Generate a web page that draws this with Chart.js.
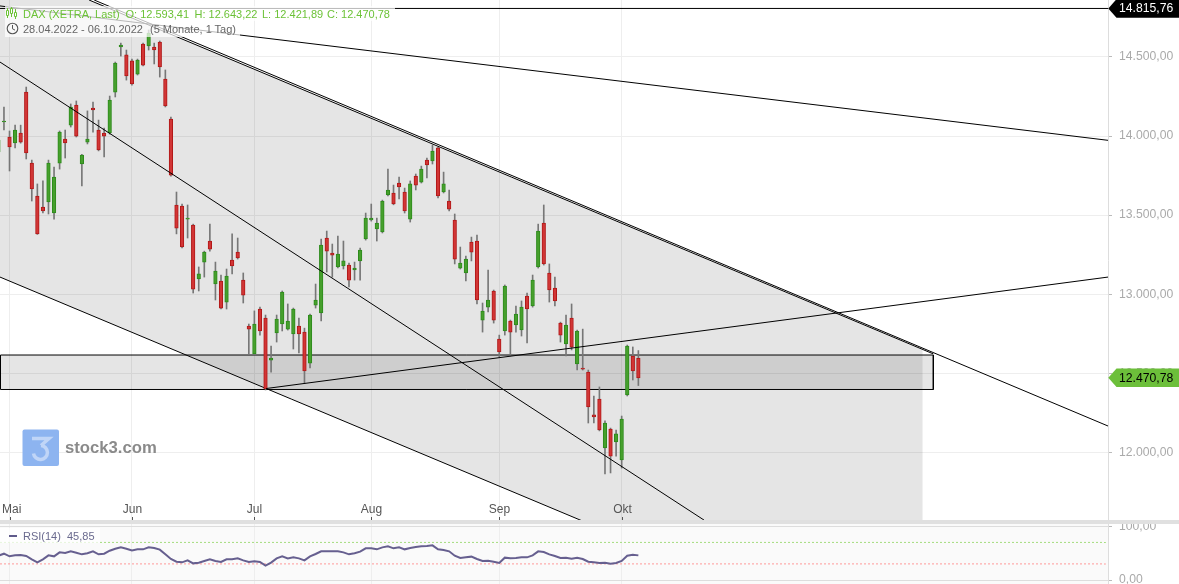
<!DOCTYPE html>
<html lang="de">
<head>
<meta charset="utf-8">
<title>DAX</title>
<script src="https://cdn.jsdelivr.net/npm/chart.js@4"></script>
<style>
  html, body { margin: 0; padding: 0; background: #fff; overflow: hidden; }
  body { width: 1179px; height: 584px; position: relative; font-family: "Liberation Sans", Arial, sans-serif; }
  canvas { position: absolute; left: 0; }
  #chartPrice { top: 0; }
  #chartRsi { top: 524px; }
  #divider { position: absolute; left: 0; top: 520px; width: 1179px; height: 4px; background: #e0e0e0; }
  #rsiBg { position: absolute; left: 0; top: 524px; width: 1108px; height: 60px; background: #fafafa; }
  .legend { position: absolute; font-size: 11px; line-height: 16px; white-space: pre; background: rgba(255,255,255,.72); }
  .legend span { position: absolute; top: 0; }
  #rowTitle { left: 5px; top: 6px; width: 390px; height: 15px; color: #6cc237; }
  #rowRange { left: 5px; top: 21px; width: 235px; height: 16px; color: #666; }
  #rowRsi { left: 0; top: 528px; width: 100px; height: 15px; color: #6a6a8e; }
  #rsiDash { position: absolute; left: 9px; top: 535px; width: 8px; height: 2px; background: #5f5a8a; }
  .icon { position: absolute; }
  #logoText { position: absolute; left: 65px; top: 438px; font-size: 16.7px; line-height: 20px; font-weight: bold; color: #8a8a8a; }
</style>
</head>
<body>
<div id="rsiBg"></div>
<canvas id="chartPrice" width="1179" height="520"></canvas>
<canvas id="chartRsi" width="1179" height="60"></canvas>
<div id="divider"></div>

<div class="legend" id="rowTitle"><span style="left:18px">DAX (XETRA, Last)</span><span style="left:120.500px">O: 12.593,41</span><span style="left:189.500px">H: 12.643,22</span><span style="left:257px">L: 12.421,89</span><span style="left:322px">C: 12.470,78</span></div>
<div class="legend" id="rowRange"><span style="left:18px">28.04.2022 - 06.10.2022</span><span style="left:145px">(5 Monate, 1 Tag)</span></div>
<svg class="icon" style="left:5px;top:7px" width="13" height="12" viewBox="0 0 13 12">
  <path d="M2.500 1v10M6.500 0v10M10.500 2v10" stroke="#6cc237" fill="none"/>
  <path d="M1.500 3.500h2v5h-2zM5.500 1.500h2v5h-2zM9.500 5.500h2v4h-2z" stroke="#6cc237" fill="#fff"/>
</svg>
<svg class="icon" style="left:6px;top:22px" width="13" height="13" viewBox="0 0 13 13">
  <circle cx="6.500" cy="6.500" r="5.300" stroke="#555" stroke-width="1.100" fill="none"/>
  <path d="M6.500 3v3.800l2.500 1.300" stroke="#555" fill="none"/>
</svg>
<div class="legend" id="rowRsi"><span style="left:23px">RSI(14)</span><span style="left:67px">45,85</span></div>
<div id="rsiDash"></div>

<svg class="icon" style="left:22px;top:429px" width="38" height="38" viewBox="0 0 38 38">
  <rect x="0.500" y="0.500" width="36.500" height="36.500" rx="2" fill="#8db4f0"/>
  <path d="M10 9.500h17l-8 7" stroke="#c0d5f7" stroke-width="3.500" fill="none"/>
  <path d="M19 16.500a7 7 0 1 1 -7.500 8" stroke="#c0d5f7" stroke-width="3.500" fill="none"/>
</svg>
<div id="logoText">stock3.com</div>

<script>
// 28.04.2022 - 06.10.2022, one entry per trading day
const opens = [13899, 14089, 13994, 13956, 14019, 14278, 13829, 13621, 13551, 13583, 13513, 13829, 13981, 14069, 14196, 13823, 13962, 14177, 14038, 14019,
  14019, 14278, 14563, 14513, 14475, 14392, 14582, 14570, 14563, 14595, 14361, 14108, 13564, 13557, 13475, 13437, 13096, 13203, 13336, 13064,
  13083, 12950, 13216, 13266, 13089, 12798, 12622, 12906, 12849, 12583, 12754, 12811, 12779, 12748, 12798, 12760, 12564, 12931, 12881, 13355,
  13260, 13172, 13178, 13184, 13153, 13210, 13349, 13469, 13412, 13393, 13627, 13640, 13703, 13646, 13475, 13747, 13709, 13848, 13842, 13925,
  13646, 13589, 13469, 13165, 13134, 13330, 13336, 12836, 12918, 13020, 12716, 12767, 12830, 12805, 12773, 12988, 12925, 13172, 13450, 13134,
  13039, 12817, 12685, 12849, 12558, 12533, 12507, 12236, 12337, 12027, 12147, 12065, 11951, 12362, 12609, 12593.41];
const highs = [13994, 14184, 14032, 14069, 14069, 14310, 13848, 13697, 13716, 13848, 13804, 14032, 14038, 14203, 14222, 13885, 14159, 14215, 14101, 14051,
  14253, 14468, 14588, 14544, 14487, 14487, 14588, 14671, 14588, 14601, 14418, 14120, 13646, 13570, 13564, 13443, 13172, 13272, 13443, 13203,
  13121, 13159, 13381, 13355, 13134, 12811, 12894, 12918, 12868, 12672, 12868, 13020, 12938, 12912, 12849, 12785, 12874, 13064, 13349, 13399,
  13317, 13368, 13336, 13197, 13203, 13292, 13513, 13570, 13481, 13595, 13791, 13690, 13741, 13671, 13716, 13760, 13810, 13861, 13943, 13931,
  13772, 13659, 13507, 13298, 13241, 13361, 13374, 12944, 13153, 13026, 12741, 13058, 12836, 12925, 12957, 13007, 13121, 13443, 13564, 13191,
  13108, 12823, 12868, 12938, 12773, 12779, 12520, 12356, 12413, 12198, 12153, 12141, 12229, 12678, 12666, 12643.22];
const lows = [13880, 14038, 13779, 13925, 13955, 13855, 13589, 13378, 13513, 13507, 13475, 13791, 13861, 14057, 13994, 13684, 13950, 14025, 13906, 13868,
  14012, 14247, 14506, 14354, 14322, 14386, 14443, 14544, 14456, 14373, 14184, 13747, 13381, 13292, 13355, 13007, 13020, 13108, 13272, 12963,
  12906, 12906, 13128, 13222, 12944, 12622, 12616, 12741, 12394, 12507, 12697, 12767, 12773, 12653, 12628, 12438, 12533, 12912, 12830, 13140,
  13108, 13166, 13159, 13045, 13089, 13089, 13342, 13462, 13336, 13387, 13621, 13565, 13602, 13513, 13456, 13659, 13703, 13735, 13823, 13608,
  13640, 13526, 13191, 13159, 13083, 13210, 12938, 12760, 12887, 12817, 12602, 12741, 12609, 12760, 12735, 12691, 12918, 13165, 13184, 12950,
  12925, 12697, 12609, 12647, 12520, 12520, 12185, 12185, 12135, 11863, 11869, 11976, 11900, 12356, 12457, 12421.89];
const closes = [13975, 14095, 13931, 14038, 13962, 13893, 13665, 13381, 13526, 13829, 13741, 14025, 13956, 14184, 14000, 13880, 13981, 14165, 13912, 14000,
  14228, 14462, 14576, 14380, 14329, 14481, 14449, 14652, 14544, 14437, 14190, 13753, 13418, 13298, 13481, 13032, 13128, 13266, 13285, 13146,
  12912, 13115, 13178, 13229, 12994, 12779, 12811, 12767, 12400, 12596, 12843, 13013, 12830, 12906, 12748, 12514, 12868, 12963, 13311, 13272,
  13247, 13254, 13210, 13089, 13165, 13279, 13481, 13481, 13450, 13589, 13659, 13570, 13678, 13526, 13697, 13690, 13791, 13817, 13905, 13621,
  13697, 13538, 13222, 13197, 13222, 13266, 12963, 12893, 12963, 12836, 12634, 13051, 12760, 12874, 12918, 12906, 13089, 13399, 13191, 13026,
  12957, 12741, 12805, 12665, 12767, 12526, 12286, 12223, 12141, 12185, 11976, 12116, 12210, 12672, 12514, 12470.78];
const rsiValues = [45.3, 49, 44.1, 45.9, 46.6, 44.7, 38.5, 32.9, 38.5, 45.9, 44.1, 51.5, 50.3, 53.4, 50.9, 47.8, 49.7, 53.4, 47.8, 49,
  54.6, 58.3, 60.8, 58.3, 55.2, 57.1, 57.1, 60.8, 59.6, 56.5, 47.8, 39.1, 34.1, 32.9, 36.6, 31, 32.3, 35.4, 38.5, 35.4,
  33.5, 38.5, 38.5, 40.3, 36.6, 33.5, 34.8, 33.5, 26.7, 32.3, 40.3, 44.1, 40.3, 42.2, 40.3, 36.6, 44.1, 48.4, 53.4, 53.4,
  53.4, 53.4, 51.5, 47.8, 49.7, 52.8, 59, 59, 57.1, 60.8, 62.7, 59, 60.8, 57.1, 59.6, 61.4, 62.7, 63.3, 64.6, 57.1,
  55.9, 53.4, 45.3, 41, 42.2, 43.5, 39.1, 35.4, 36, 34.1, 31.7, 41.6, 40.3, 41, 42.2, 42.2, 45.9, 53.4, 52.1, 47.8,
  44.7, 41, 41.6, 39.7, 41.6, 39.1, 34.1, 32.9, 31.7, 32.3, 30.4, 31.7, 35.4, 45.3, 47.2, 45.85];

const monthIdx = [2, 24, 46, 67, 90, 112];
const monthNames = ['Mai', 'Jun', 'Jul', 'Aug', 'Sep', 'Okt'];
const priceTicks = [12000, 12500, 13000, 13500, 14000, 14500];
const rsiTicks = [0, 100];

// trend lines as [index, price] pairs
const channelTop = [[17.21, 14860.5], [199.39, 12166]];
const channelTop2 = [[16.29, 14860.5], [168, 12622]];
const channelMid = [[0.288, 14468], [126.8, 11571]];
const shadeTop = [[0.288, 15096], [166.1, 12649]];
const shadeBottom = [[0.288, 13108], [166.1, 10664]];
const riseLine = [[48.1, 12403], [199.39, 13108]];
const fallLine = [[0.288, 14823], [199.39, 13973]];
const highLine = [[0.288, 14807], [199.39, 14807]];
const boxTop = 12615;
const boxBottom = 12397;
const boxLeft = 0.378;
const boxRight = 168;

const xMin = 0.288;
const xMax = 199.39;
const rsiEnd = 199;
const rsiUpper = 70;
const rsiLower = 30;

const highTag = '14.815,76';
const closeTag = '12.470,78';

const GREEN = '#46a02c', GREEN_DARK = '#2d8a1c';
const RED = '#d23535', RED_DARK = '#b01818';

const formatPrice = v => v.toLocaleString('de-DE', { minimumFractionDigits: 2, maximumFractionDigits: 2 });
const toPoints = pairs => pairs.map(([x, y]) => ({ x, y }));

function trendLine(pairs, extra) {
  return Object.assign({
    type: 'line', data: toPoints(pairs), borderColor: '#000', borderWidth: 1,
    pointRadius: 0, tension: 0, fill: false, order: 1
  }, extra);
}

function axisFit(scale) {
  scale.width = 71;
  scale.paddingTop = 0;
  scale.paddingBottom = 0;
}

function xAxis() {
  return {
    type: 'linear', min: xMin, max: xMax, offset: false,
    afterBuildTicks: scale => { scale.ticks = monthIdx.map(value => ({ value })); },
    afterFit: scale => { scale.height = 0; },
    ticks: { display: false },
    grid: { color: '#eee', offset: false, drawTicks: false },
    border: { display: false }
  };
}

function yAxis(min, max, tickValues, gridColor) {
  return {
    type: 'linear', position: 'right', min, max, beginAtZero: false,
    afterBuildTicks: scale => { scale.ticks = tickValues.map(value => ({ value })); },
    afterFit: axisFit,
    ticks: {
      padding: 7, color: '#aaa', autoSkip: false,
      font: { family: 'Liberation Sans', size: 12.2 }, callback: formatPrice
    },
    grid: { color: gridColor, tickLength: 4, tickColor: '#bbb' },
    border: { color: '#ddd' }
  };
}

const monthLabels = {
  id: 'monthLabels',
  afterDatasetsDraw(chart) {
    const { ctx, scales, chartArea } = chart;
    ctx.save();
    ctx.font = '12px "Liberation Sans"';
    ctx.textBaseline = 'middle';
    ctx.textAlign = 'center';
    monthIdx.forEach((v, i) => {
      const x = Math.round(scales.x.getPixelForValue(v)) + 0.5;
      const w = ctx.measureText(monthNames[i]).width;
      ctx.fillStyle = '#555';
      ctx.fillText(monthNames[i], Math.max(x, 2 + w / 2), chartArea.bottom - 10);
      ctx.fillRect(x - 0.5, chartArea.bottom - 3, 1, 3);
    });
    ctx.restore();
  }
};

function drawTag(ctx, y, text, bg, fg) {
  const h = 9.3;
  ctx.beginPath();
  ctx.moveTo(1108.3, y);
  ctx.lineTo(1116.5, y - h);
  ctx.lineTo(1179, y - h);
  ctx.lineTo(1179, y + h);
  ctx.lineTo(1116.5, y + h);
  ctx.closePath();
  ctx.fillStyle = bg;
  ctx.fill();
  ctx.fillStyle = fg;
  ctx.font = '12.2px "Liberation Sans"';
  ctx.textAlign = 'left';
  ctx.textBaseline = 'middle';
  ctx.fillText(text, 1119, y + 0.5);
}

const priceTags = {
  id: 'priceTags',
  afterDraw(chart) {
    const { ctx, scales } = chart;
    ctx.save();
    drawTag(ctx, scales.y.getPixelForValue(highLine[0][1]), highTag, '#000', '#fff');
    drawTag(ctx, scales.y.getPixelForValue(closes[closes.length - 1]), closeTag, '#6cbf3a', '#000');
    ctx.restore();
  }
};

const isUp = i => closes[i] >= opens[i];

new Chart(document.getElementById('chartPrice'), {
  type: 'bar',
  data: {
    datasets: [
      trendLine(shadeTop, { borderWidth: 0, backgroundColor: 'rgba(0,0,0,0.1)', fill: '+1', order: 20 }),
      trendLine(shadeBottom, { order: 19 }),
      trendLine([[boxLeft, boxTop], [boxRight, boxTop]], { borderWidth: 0, backgroundColor: 'rgba(0,0,0,0.1)', fill: { value: boxBottom }, order: 12 }),
      trendLine([[boxLeft, boxTop], [boxRight, boxTop], [boxRight, boxBottom], [boxLeft, boxBottom], [boxLeft, boxTop]], { order: 11 }),
      {
        type: 'bar', grouped: false, order: 6, barThickness: 1,
        data: highs.map((h, i) => ({ x: i, y: [lows[i], h] })),
        backgroundColor: '#777', borderWidth: 0
      },
      {
        type: 'bar', grouped: false, order: 5, barThickness: 3.6,
        data: opens.map((o, i) => ({ x: i, y: [o, closes[i]] })),
        backgroundColor: opens.map((o, i) => isUp(i) ? GREEN : RED),
        borderColor: opens.map((o, i) => isUp(i) ? GREEN_DARK : RED_DARK),
        borderWidth: 1, borderSkipped: false
      },
      trendLine(channelTop),
      trendLine(channelTop2),
      trendLine(channelMid),
      trendLine(riseLine),
      trendLine(fallLine),
      trendLine(highLine)
    ]
  },
  options: {
    responsive: false,
    animation: false,
    layout: { padding: 0 },
    plugins: { legend: { display: false }, tooltip: { enabled: false } },
    scales: { x: xAxis(), y: yAxis(11571.5, 14860.5, priceTicks, '#eee') }
  },
  plugins: [monthLabels, priceTags]
});

new Chart(document.getElementById('chartRsi'), {
  type: 'line',
  data: {
    datasets: [
      trendLine([[xMin, rsiUpper], [rsiEnd, rsiUpper]], { borderColor: '#a4dd7e', borderDash: [2, 2], order: 3 }),
      trendLine([[xMin, rsiLower], [rsiEnd, rsiLower]], { borderColor: '#ff9a9a', borderDash: [2, 2], order: 3 }),
      {
        data: rsiValues.map((y, x) => ({ x, y })),
        borderColor: '#665f8f', borderWidth: 2, pointRadius: 0, tension: 0, fill: false, order: 1
      }
    ]
  },
  options: {
    responsive: false,
    animation: false,
    layout: { padding: 0 },
    plugins: { legend: { display: false }, tooltip: { enabled: false } },
    scales: { x: xAxis(), y: yAxis(-7.45, 104.3, rsiTicks, '#ddd') }
  }
});
</script>
</body>
</html>
